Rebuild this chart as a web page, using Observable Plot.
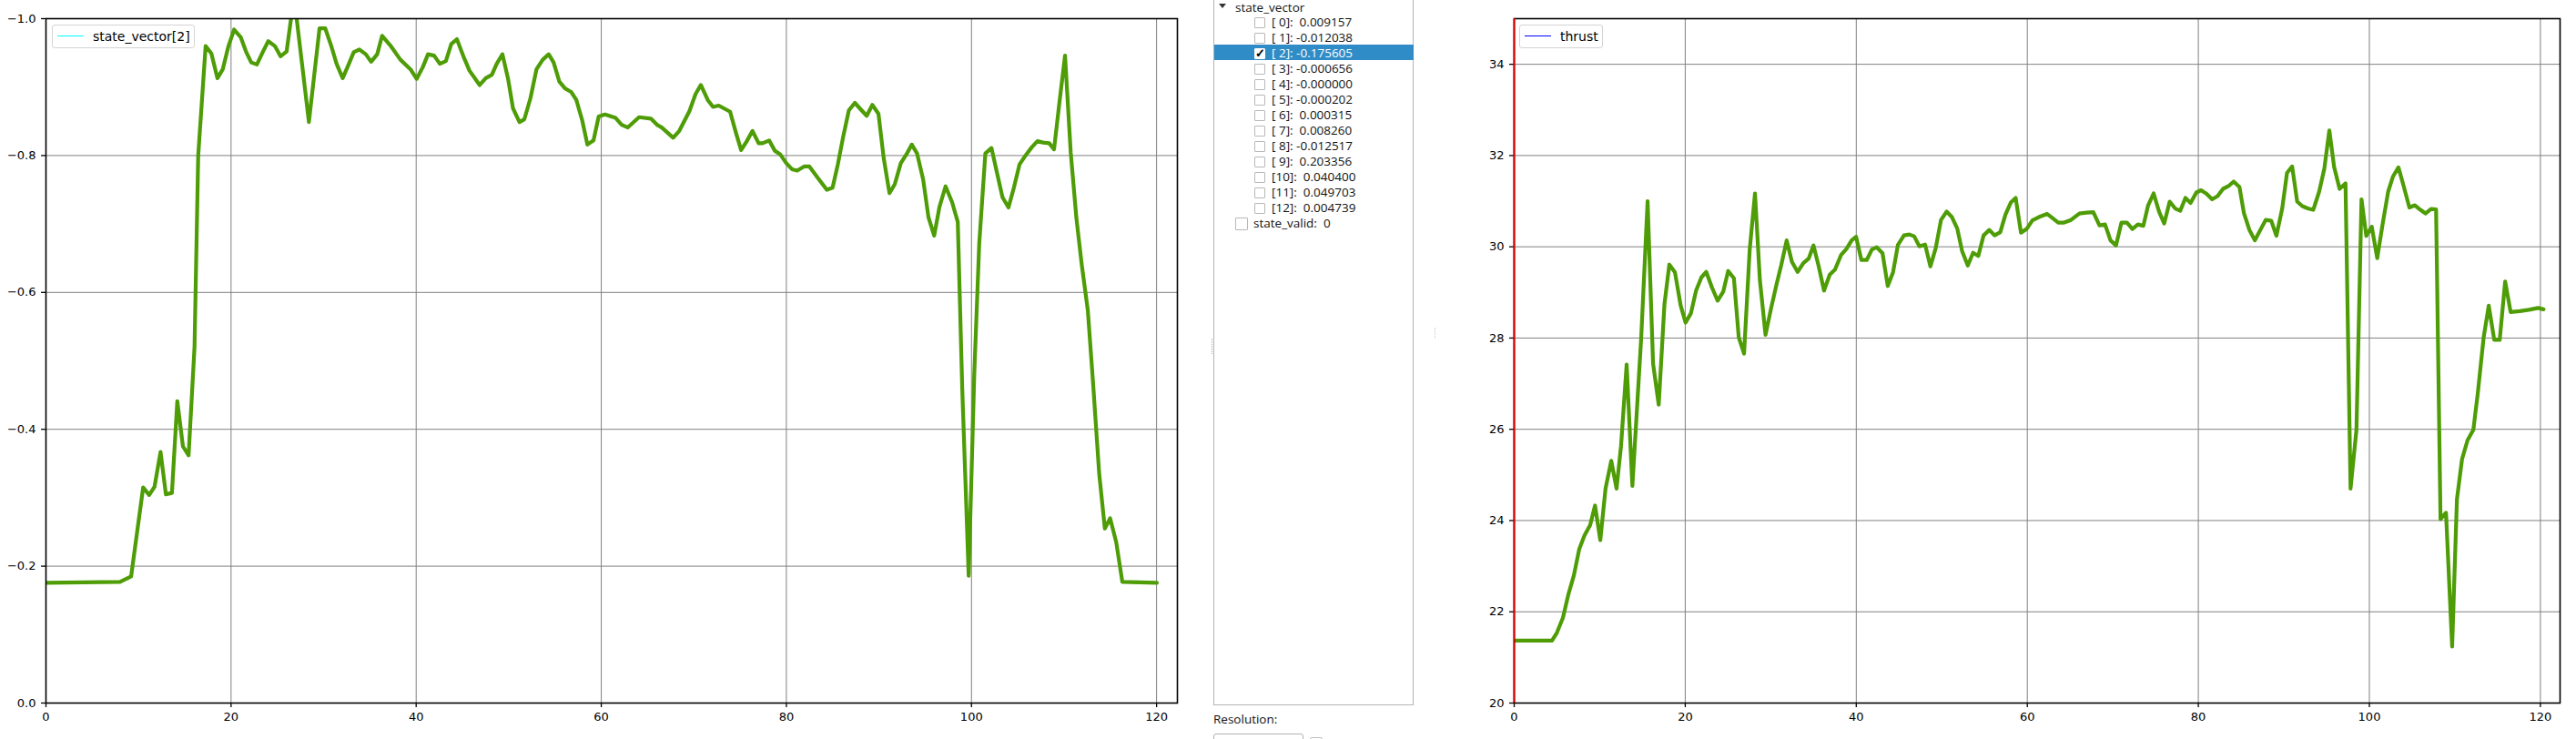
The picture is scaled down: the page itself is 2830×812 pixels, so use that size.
<!DOCTYPE html>
<html>
<head>
<meta charset="utf-8">
<script src="https://cdn.jsdelivr.net/npm/d3@7"></script>
<script src="https://cdn.jsdelivr.net/npm/@observablehq/plot@0.6"></script>
<style>
  html, body { margin: 0; padding: 0; background: #fff; }
  #page { position: relative; width: 2830px; height: 812px; overflow: hidden; background: #fff; }
  .abs { position: absolute; }
  .legend { position: absolute; background: #fff; border: 1px solid #d4d4d4; border-radius: 3px; box-sizing: border-box; }
  .legline { position: absolute; height: 0; }
  .legtext { position: absolute; font-family: "DejaVu Sans", sans-serif; font-size: 14px; line-height: 16px; color: #000; white-space: pre; }
  .tree { font-family: "Open Sans", "Noto Sans", sans-serif; font-size: 13.5px; color: #111; }
  .row { position: absolute; height: 17px; line-height: 17px; white-space: pre; }
  .cb { position: absolute; width: 12px; height: 12px; border: 1px solid #b8b8b8; border-radius: 1px; box-sizing: border-box; background: #fff; }
</style>
</head>
<body>
<div id="page"></div>
<script>
// ---------- data ----------
const xTicks = [0, 20, 40, 60, 80, 100, 120];
const stateTicks = [0, -0.2, -0.4, -0.6, -0.8, -1.0];
const thrustTicks = [20, 22, 24, 26, 28, 30, 32, 34];

const stateT = [0, 8.0, 9.2, 10.5, 11.15, 11.73, 12.38, 12.96, 13.61, 14.19, 14.8, 15.41, 16.05, 16.45, 17.25, 17.87, 18.53, 19.10, 19.72, 20.33, 21.04, 21.61, 22.18, 22.79, 23.45, 24.02, 24.73, 25.34, 26.0, 26.48, 27.0, 28.41, 29.56, 30.17, 30.83, 31.40, 32.06, 32.67, 33.25, 33.86, 34.56, 35.13, 35.79, 36.32, 37.20, 38.30, 39.39, 40.05, 40.71, 41.28, 41.94, 42.56, 43.21, 43.79, 44.40, 45.10, 45.76, 46.86, 47.52, 48.18, 48.70, 49.32, 49.93, 50.46, 51.16, 51.69, 52.35, 53.0, 53.67, 54.32, 54.85, 55.47, 56.08, 56.74, 57.31, 57.93, 58.50, 59.16, 59.72, 60.4, 61.55, 62.2, 62.87, 64.08, 65.36, 66.02, 66.54, 67.77, 68.43, 69.53, 70.19, 70.76, 71.51, 72.08, 72.69, 73.92, 74.58, 75.11, 75.68, 76.34, 77.0, 77.43, 78.14, 78.75, 79.32, 79.98, 80.60, 81.17, 81.91, 82.49, 83.36, 84.37, 84.99, 85.56, 86.13, 86.75, 87.40, 88.06, 88.68, 89.29, 89.95, 90.52, 91.14, 91.71, 92.37, 92.94, 93.55, 94.12, 94.78, 95.35, 95.97, 96.54, 97.20, 97.90, 98.52, 99.0, 99.70, 100.3, 100.84, 101.50, 102.16, 102.77, 103.35, 104.0, 104.58, 105.19, 105.89, 106.51, 107.12, 107.74, 108.40, 108.92, 109.49, 110.11, 110.72, 111.34, 111.91, 112.57, 113.14, 113.8, 114.41, 114.98, 115.64, 116.30, 120.03];
const stateV = [-0.1756, -0.177, -0.185, -0.315, -0.304, -0.316, -0.367, -0.305, -0.307, -0.441, -0.375, -0.362, -0.52, -0.80, -0.96, -0.949, -0.913, -0.926, -0.960, -0.984, -0.973, -0.952, -0.936, -0.933, -0.952, -0.967, -0.960, -0.945, -0.952, -1.0, -1.01, -0.849, -0.986, -0.986, -0.960, -0.934, -0.913, -0.932, -0.951, -0.955, -0.948, -0.937, -0.948, -0.975, -0.961, -0.940, -0.926, -0.912, -0.929, -0.948, -0.946, -0.934, -0.938, -0.963, -0.970, -0.945, -0.924, -0.903, -0.913, -0.918, -0.934, -0.948, -0.912, -0.869, -0.849, -0.853, -0.884, -0.926, -0.940, -0.948, -0.936, -0.908, -0.898, -0.893, -0.881, -0.852, -0.816, -0.822, -0.857, -0.860, -0.855, -0.845, -0.841, -0.856, -0.854, -0.845, -0.841, -0.826, -0.836, -0.865, -0.890, -0.903, -0.881, -0.871, -0.873, -0.864, -0.832, -0.808, -0.820, -0.836, -0.818, -0.818, -0.822, -0.807, -0.802, -0.789, -0.780, -0.778, -0.784, -0.784, -0.768, -0.750, -0.753, -0.787, -0.827, -0.866, -0.877, -0.867, -0.858, -0.874, -0.861, -0.796, -0.745, -0.758, -0.789, -0.801, -0.816, -0.803, -0.765, -0.710, -0.683, -0.725, -0.755, -0.732, -0.703, -0.46, -0.186, -0.48, -0.672, -0.803, -0.811, -0.774, -0.739, -0.724, -0.753, -0.787, -0.801, -0.812, -0.821, -0.819, -0.818, -0.809, -0.876, -0.946, -0.805, -0.708, -0.641, -0.574, -0.467, -0.335, -0.255, -0.270, -0.235, -0.177, -0.1756];

const thrustT = [0, 4.42, 4.99, 5.70, 6.32, 6.98, 7.60, 8.21, 8.88, 9.45, 10.07, 10.68, 11.35, 11.97, 12.49, 13.15, 13.82, 14.85, 15.6, 16.24, 16.9, 17.57, 18.14, 18.80, 19.47, 20.04, 20.66, 21.27, 21.89, 22.46, 23.12, 23.79, 24.45, 25.02, 25.69, 26.26, 26.88, 27.54, 28.16, 28.73, 29.39, 30.06, 30.67, 31.24, 31.86, 32.48, 33.14, 33.81, 34.43, 35.0, 35.61, 36.23, 36.9, 37.51, 38.22, 38.84, 39.46, 39.98, 40.60, 41.22, 41.83, 42.40, 43.07, 43.68, 44.30, 44.87, 45.58, 46.20, 46.77, 47.39, 48.05, 48.67, 49.29, 49.91, 50.57, 51.19, 51.81, 52.37, 53.04, 53.66, 54.27, 54.89, 55.56, 56.17, 56.84, 57.45, 58.07, 58.64, 59.26, 59.92, 60.6, 61.35, 62.33, 63.02, 63.62, 64.3, 65.04, 66.09, 66.95, 67.72, 68.44, 69.09, 69.73, 70.37, 71.01, 71.65, 72.29, 72.93, 73.57, 74.13, 74.77, 75.41, 76.01, 76.65, 77.29, 77.89, 78.49, 79.09, 79.77, 80.32, 80.97, 81.61, 82.25, 82.89, 83.53, 84.13, 84.81, 85.33, 85.97, 86.61, 87.25, 87.89, 88.53, 89.13, 89.81, 90.37, 90.97, 91.56, 92.16, 92.80, 93.44, 94.13, 94.73, 95.32, 95.88, 96.52, 97.21, 97.80, 98.49, 99.08, 99.64, 100.28, 100.92, 101.56, 102.2, 102.76, 103.40, 104.04, 104.68, 105.32, 105.97, 106.56, 107.21, 107.80, 108.32, 108.96, 109.68, 110.24, 110.84, 111.48, 112.16, 112.68, 113.36, 113.96, 114.60, 115.24, 115.88, 116.52, 117.59, 118.66, 119.73, 120.37];
const thrustV = [21.37, 21.37, 21.54, 21.87, 22.37, 22.80, 23.37, 23.67, 23.90, 24.33, 23.57, 24.70, 25.31, 24.70, 25.63, 27.42, 24.76, 28.0, 31.0, 27.44, 26.54, 28.74, 29.61, 29.44, 28.71, 28.34, 28.54, 29.04, 29.33, 29.45, 29.11, 28.82, 29.02, 29.47, 29.31, 28.01, 27.66, 29.94, 31.17, 29.27, 28.07, 28.67, 29.17, 29.61, 30.14, 29.67, 29.45, 29.64, 29.74, 30.03, 29.57, 29.04, 29.39, 29.50, 29.82, 29.95, 30.14, 30.22, 29.71, 29.71, 29.94, 29.99, 29.86, 29.14, 29.44, 30.04, 30.25, 30.27, 30.23, 30.01, 30.05, 29.57, 29.97, 30.59, 30.77, 30.65, 30.40, 29.91, 29.59, 29.87, 29.80, 30.25, 30.37, 30.25, 30.32, 30.71, 30.97, 31.07, 30.31, 30.39, 30.58, 30.65, 30.72, 30.62, 30.53, 30.53, 30.58, 30.73, 30.75, 30.76, 30.47, 30.49, 30.14, 30.03, 30.53, 30.53, 30.39, 30.49, 30.46, 30.91, 31.17, 30.77, 30.51, 30.99, 30.84, 30.79, 31.07, 30.96, 31.19, 31.24, 31.16, 31.04, 31.11, 31.27, 31.33, 31.43, 31.31, 30.74, 30.37, 30.14, 30.37, 30.59, 30.57, 30.24, 30.84, 31.62, 31.76, 30.99, 30.89, 30.84, 30.81, 31.21, 31.71, 32.55, 31.75, 31.27, 31.39, 24.70, 25.99, 31.04, 30.24, 30.44, 29.75, 30.51, 31.21, 31.54, 31.74, 31.31, 30.86, 30.91, 30.81, 30.73, 30.83, 30.82, 24.03, 24.17, 21.24, 24.47, 25.35, 25.76, 25.99, 26.79, 28.01, 28.71, 27.96, 27.96, 29.24, 28.57, 28.59, 28.62, 28.66, 28.63];

const treeIndex = ["[ 0]:", "[ 1]:", "[ 2]:", "[ 3]:", "[ 4]:", "[ 5]:", "[ 6]:", "[ 7]:", "[ 8]:", "[ 9]:", "[10]:", "[11]:", "[12]:"];
const treeValues = [" 0.009157", "-0.012038", "-0.175605", "-0.000656", "-0.000000", "-0.000202", " 0.000315", " 0.008260", "-0.012517", " 0.203356", " 0.040400", " 0.049703", " 0.004739"];

// ---------- charts ----------
const page = document.getElementById("page");
const GREEN = "#4e9c06";

function makeChart({t, v, yDomain, yTicks, yFormat, width, ml, mr, xMax, red}) {
  const idx = d3.range(t.length);
  const marks = [
    Plot.gridX(xTicks, {stroke: "#808080", strokeOpacity: 1, strokeWidth: 1}),
    Plot.gridY(yTicks, {stroke: "#808080", strokeOpacity: 1, strokeWidth: 1}),
    Plot.line(idx, {x: i => t[i], y: i => v[i], stroke: GREEN, strokeWidth: 4.2, strokeLinejoin: "round", clip: true}),
    Plot.frame({stroke: "#000", strokeWidth: 1.6}),
    Plot.axisX(xTicks, {tickSize: 5, tickPadding: 5, tickFormat: d3.format("d"), label: null, stroke: "#000", strokeWidth: 1.3}),
    Plot.axisY(yTicks, {tickSize: 5, tickPadding: 6, tickFormat: yFormat, label: null, stroke: "#000", strokeWidth: 1.3})
  ];
  if (red) marks.push(Plot.ruleX([0], {stroke: "#e00000", strokeWidth: 2}));
  return Plot.plot({
    width, height: 812,
    marginLeft: ml, marginRight: mr, marginTop: 20, marginBottom: 40,
    style: {fontFamily: "DejaVu Sans, sans-serif", fontSize: "13px", color: "#000", background: "transparent", overflow: "visible"},
    x: {domain: [0, xMax], label: null},
    y: {domain: yDomain, label: null},
    marks
  });
}

const left = makeChart({t: stateT, v: stateV, yDomain: [0, -1], yTicks: stateTicks, yFormat: d3.format(".1f"), width: 1300, ml: 50, mr: 7, xMax: 122.25});
left.style.position = "absolute"; left.style.left = "0px"; left.style.top = "0px";
page.appendChild(left);

const right = makeChart({t: thrustT, v: thrustV, yDomain: [20, 35], yTicks: thrustTicks, yFormat: d3.format("d"), width: 1230, ml: 63, mr: 18, xMax: 122.3, red: true});
right.style.position = "absolute"; right.style.left = "1600px"; right.style.top = "0px";
page.appendChild(right);

// ---------- legends ----------
function legend(x, y, w, color, label) {
  const box = document.createElement("div");
  box.className = "legend";
  Object.assign(box.style, {left: x + "px", top: y + "px", width: w + "px", height: "26px"});
  const ln = document.createElement("div");
  ln.className = "legline";
  Object.assign(ln.style, {left: "5px", top: "11px", width: "29px", borderTop: "1.5px solid " + color});
  const tx = document.createElement("div");
  tx.className = "legtext";
  Object.assign(tx.style, {left: "44px", top: "4px"});
  tx.textContent = label;
  box.appendChild(ln); box.appendChild(tx);
  page.appendChild(box);
}
legend(57, 27, 157, "#00ffff", "state_vector[2]");
legend(1669, 27, 92, "#0000ff", "thrust");

// ---------- tree panel ----------
const tree = document.createElement("div");
tree.className = "tree abs";
Object.assign(tree.style, {left: "0px", top: "0px", width: "2830px", height: "812px"});
page.appendChild(tree);

function el(cls, styles, text) {
  const d = document.createElement("div");
  d.className = cls;
  Object.assign(d.style, styles);
  if (text !== undefined) d.textContent = text;
  tree.appendChild(d);
  return d;
}
// panel border
el("abs", {left: "1333px", top: "-2px", width: "220px", height: "777px", border: "1px solid #b4b4b4", boxSizing: "border-box", background: "#fff"});
// highlight row
el("abs", {left: "1334px", top: "49px", width: "219px", height: "17px", background: "#308cc6"});
// header
el("abs", {left: "1339px", top: "4px", width: "0", height: "0", borderLeft: "4px solid transparent", borderRight: "4px solid transparent", borderTop: "5px solid #333"});
el("row", {left: "1357px", top: "0px"}, "state_vector");
treeIndex.forEach((lab, i) => {
  const cy = 24.5 + 17 * i;
  const sel = i === 2;
  const cb = el("cb", {left: "1378px", top: (cy - 6) + "px"});
  if (sel) {
    cb.style.border = "1px solid #fff";
    el("row", {left: "1379px", top: (cy - 9) + "px", fontSize: "13px", color: "#000", fontWeight: "bold", lineHeight: "17px"}, "\u2713");
  }
  el("row", {left: "1397px", top: (cy - 8.5) + "px", color: sel ? "#fff" : "#111"}, lab + " " + treeValues[i]);
});
el("cb", {left: "1357px", top: "239px", width: "14px", height: "14px"});
el("row", {left: "1377px", top: "236.5px"}, "state_valid:  0");
el("row", {left: "1333px", top: "782px"}, "Resolution:");
el("abs", {left: "1333px", top: "806px", width: "99px", height: "20px", border: "1px solid #b0b0b0", borderRadius: "3px", boxSizing: "border-box"});
el("abs", {left: "1439px", top: "810px", width: "14px", height: "14px", border: "1px solid #c0c0c0", borderRadius: "2px", boxSizing: "border-box"});
// splitter handles
el("abs", {left: "1331px", top: "372px", width: "0", height: "17px", borderLeft: "1px dotted #aaa"});
el("abs", {left: "1576px", top: "360px", width: "0", height: "12px", borderLeft: "1px dotted #ccc"});
</script>
</body>
</html>
